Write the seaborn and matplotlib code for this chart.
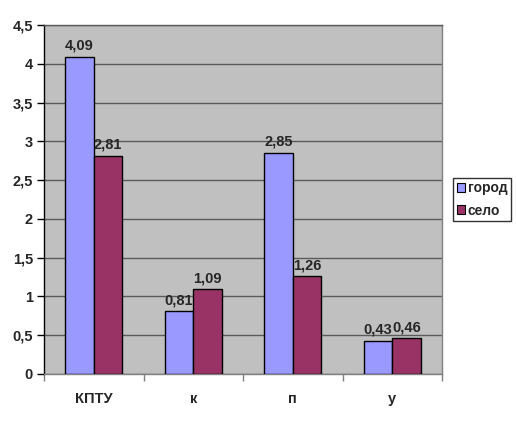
import pandas as pd
import numpy as np
import seaborn as sns
import matplotlib.pyplot as plt
from matplotlib.patches import Patch

# data
categories = ['КПТУ', 'к', 'п', 'у']
gorod = [4.09, 0.81, 2.85, 0.43]
selo = [2.81, 1.09, 1.26, 0.46]
series = ['город', 'село']
colors = ['#9999FF', '#993366']

df = pd.DataFrame({
    'cat': categories * 2,
    'val': gorod + selo,
    'grp': [series[0]] * 4 + [series[1]] * 4,
})

sns.set_style('white')
plt.rcParams['font.family'] = ['Liberation Sans', 'DejaVu Sans']
plt.rcParams['font.weight'] = 'bold'
fs = 10.5

fig = plt.figure(figsize=(5.16, 4.37), dpi=100)
ax = fig.add_axes([0.0853, 0.1442, 0.7713, 0.7986])
ax.set_facecolor('#C0C0C0')

sns.barplot(data=df, x='cat', y='val', hue='grp', palette=colors, saturation=1,
            order=categories, hue_order=series, width=0.575, gap=0,
            edgecolor='black', linewidth=1, ax=ax, legend=False, zorder=3)

for cont in ax.containers:
    labels = [f'{b.get_height():.2f}'.replace('.', ',') for b in cont]
    ax.bar_label(cont, labels=labels, padding=3, fontsize=fs,
                 fontweight='bold', zorder=4)

ax.set_xlim(-0.5, 3.5)
ax.set_ylim(0, 4.5)
ax.set_yticks(np.arange(0, 4.51, 0.5))
ax.set_yticklabels([f'{v:g}'.replace('.', ',') for v in np.arange(0, 4.51, 0.5)],
                   fontsize=fs, fontweight='bold')
ax.yaxis.grid(True, color='#5a5a5a', linewidth=1, zorder=0)
ax.set_axisbelow(True)
ax.tick_params(axis='y', length=5, width=1, color='black', direction='out', left=True, pad=3)

ax.set_xticks(range(len(categories)))
ax.set_xticklabels(categories, fontsize=fs, fontweight='bold')
ax.set_xticks(np.arange(-0.5, 3.6, 1), minor=True)
ax.tick_params(axis='x', which='major', length=0, pad=13)
ax.tick_params(axis='x', which='minor', length=5, width=1, color='#808080', direction='out', bottom=True)
ax.set_xlabel('')
ax.set_ylabel('')

for s in ax.spines.values():
    s.set_visible(True)
    s.set_linewidth(1)
ax.spines['left'].set_color('black')
ax.spines['bottom'].set_color('#808080')
ax.spines['right'].set_color('#808080')
ax.spines['top'].set_color('#5a5a5a')

handles = [Patch(facecolor=c, edgecolor='black', linewidth=0.8) for c in colors]
leg = fig.legend(handles, series, loc='center left', bbox_to_anchor=(0.878, 0.5435),
                 frameon=True, fancybox=False, edgecolor='black', fontsize=10,
                 handlelength=0.6, handleheight=0.6, handletextpad=0.2,
                 borderpad=0.25, labelspacing=0.6, borderaxespad=0)
leg.get_frame().set_linewidth(1)
for t in leg.get_texts():
    t.set_fontweight('bold')

fig.savefig('out.png', dpi=100)
